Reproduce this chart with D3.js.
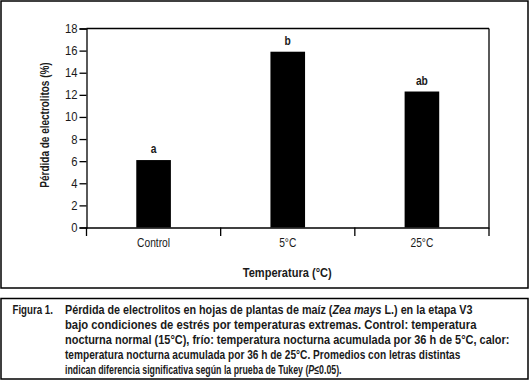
<!DOCTYPE html>
<html>
<head>
<meta charset="utf-8">
<script src="https://cdn.jsdelivr.net/npm/d3@7"></script>
<style>
  body { margin: 0; background: #fff; }
  svg { display: block; font-family: "Liberation Sans Narrow", "Arial Narrow", "Liberation Sans", sans-serif; }
</style>
</head>
<body>
<div id="chart"></div>
<script>
// Pérdida de electrolitos por temperatura nocturna (maíz, etapa V3)
const categories = ['Control', '5°C', '25°C'];
const values = [6.1, 15.9, 12.3];
const letters = ['a', 'b', 'ab'];
const yTicks = [0, 2, 4, 6, 8, 10, 12, 14, 16, 18];

const captionLines = [
  [{ t: 'Pérdida de electrolitos en hojas de plantas de maíz (' }, { t: 'Zea mays', i: true }, { t: ' L.) en la etapa V3' }],
  [{ t: 'bajo condiciones de estrés por temperaturas extremas. Control: temperatura' }],
  [{ t: 'nocturna normal (15°C), frío: temperatura nocturna acumulada por 36 h de 5°C, calor:' }],
  [{ t: 'temperatura nocturna acumulada por 36 h de 25°C. Promedios con letras distintas' }],
  [{ t: 'indican diferencia significativa según la prueba de Tukey (' }, { t: 'P', i: true }, { t: '≤0.05).' }]
];
// ancho de cada renglon en la figura original (px)
const captionWidths = [408, 412, 445, 396, 277];

const width = 530, height = 381;
const margin = { top: 28.5, right: 41, bottom: 153.5, left: 86.5 };
const W = width - margin.left - margin.right;
const H = height - margin.top - margin.bottom;
const SQ = 0.9; // letra condensada

// comprime horizontalmente un texto alrededor de su punto de anclaje
function squeeze(sel, f) {
  sel.each(function () {
    const t = d3.select(this);
    const x0 = +t.attr('x') || 0, y0 = +t.attr('y') || 0;
    t.attr('transform', `translate(${x0},${y0}) scale(${f},1) translate(${-x0},${-y0})`);
  });
}
function fitWidth(sel, w) {
  squeeze(sel, w / sel.node().getComputedTextLength());
}

const svg = d3.select('#chart').append('svg')
  .attr('width', width).attr('height', height);

// marcos
svg.append('rect').attr('x', 1).attr('y', 1).attr('width', 527).attr('height', 287)
  .attr('fill', 'none').attr('stroke', '#000').attr('stroke-width', 1.5);
svg.append('rect').attr('x', 1).attr('y', 298.5).attr('width', 527).attr('height', 80.5)
  .attr('fill', 'none').attr('stroke', '#000').attr('stroke-width', 1.5);

const g = svg.append('g').attr('transform', `translate(${margin.left},${margin.top})`);

const pad = 0.742;
const x = d3.scaleBand().domain(categories).range([0, W])
  .paddingInner(pad).paddingOuter(pad / 2);
const y = d3.scaleLinear().domain([0, 18]).range([H, 0]);

// marco superior y derecho
g.append('line').attr('x1', 0).attr('x2', W).attr('y1', 0).attr('y2', 0)
  .attr('stroke', '#000').attr('stroke-width', 1.3);
g.append('line').attr('x1', W).attr('x2', W).attr('y1', 0).attr('y2', H)
  .attr('stroke', '#000').attr('stroke-width', 1.3);

// eje y
const yAxis = g.append('g').call(d3.axisLeft(y).tickValues(yTicks).tickSize(7).tickPadding(2));
yAxis.select('.domain').attr('stroke-width', 1.3);
yAxis.selectAll('.tick line').attr('stroke-width', 1.3);
yAxis.selectAll('text').attr('font-size', '12.5px').attr('fill', '#1a1a1a')
  .style('font-family', 'inherit').call(squeeze, SQ);

// eje x: etiquetas centradas, marcas en los limites de cada categoria
const xAxis = g.append('g').attr('transform', `translate(0,${H})`)
  .call(d3.axisBottom(x).tickSize(0).tickPadding(11));
xAxis.select('.domain').attr('stroke-width', 1.3);
xAxis.selectAll('text').attr('font-size', '12.5px').attr('fill', '#1a1a1a')
  .style('font-family', 'inherit').call(squeeze, 0.82);

const bounds = categories.map(c => x(c) + x.bandwidth() / 2 - x.step() / 2);
bounds.push(bounds[bounds.length - 1] + x.step());
g.selectAll('.btick').data(bounds).join('line')
  .attr('x1', d => d).attr('x2', d => d).attr('y1', H).attr('y2', H + 8.5)
  .attr('stroke', '#000').attr('stroke-width', 1.3);

// barras
g.selectAll('.bar').data(values).join('rect')
  .attr('x', (d, i) => x(categories[i]))
  .attr('y', d => y(d))
  .attr('width', x.bandwidth())
  .attr('height', d => H - y(d))
  .attr('fill', '#000');

// letras de significancia
g.selectAll('.lab').data(values).join('text')
  .attr('x', (d, i) => x(categories[i]) + x.bandwidth() / 2)
  .attr('y', d => y(d) - 7)
  .attr('text-anchor', 'middle')
  .attr('font-size', '12.5px').attr('font-weight', 'bold').attr('fill', '#1a1a1a')
  .text((d, i) => letters[i])
  .call(squeeze, 0.82);

// titulos de ejes
g.append('text')
  .attr('transform', `translate(${-38},${H / 2 - 3}) rotate(-90) scale(0.8,1)`)
  .attr('text-anchor', 'middle')
  .attr('font-size', '12.5px').attr('font-weight', 'bold').attr('fill', '#1a1a1a')
  .text('Pérdida de electrolitos (%)');

g.append('text')
  .attr('x', W / 2 - 0.5).attr('y', H + 50)
  .attr('text-anchor', 'middle')
  .attr('font-size', '12.5px').attr('font-weight', 'bold').attr('fill', '#1a1a1a')
  .text('Temperatura (°C)')
  .call(fitWidth, 89);

// pie de figura
const cap = svg.append('g').attr('font-size', '12.5px').attr('font-weight', 'bold').attr('fill', '#1a1a1a');
cap.append('text').attr('x', 12.5).attr('y', 314.5).text('Figura 1.').call(fitWidth, 40.5);
captionLines.forEach((line, i) => {
  const t = cap.append('text').attr('x', 65).attr('y', 314.5 + i * 15);
  line.forEach(seg => {
    t.append('tspan').attr('font-style', seg.i ? 'italic' : null).text(seg.t);
  });
  t.call(fitWidth, captionWidths[i]);
});
</script>
</body>
</html>
